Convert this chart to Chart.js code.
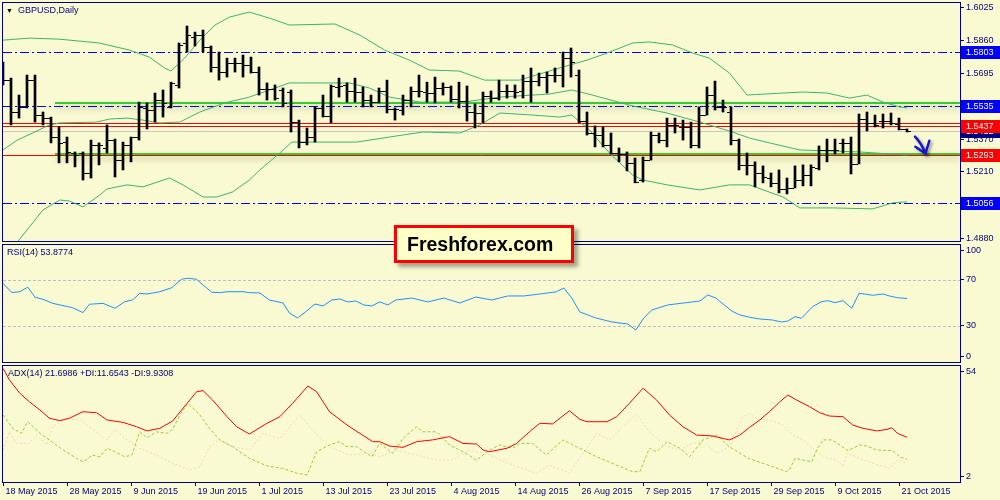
<!DOCTYPE html>
<html>
<head>
<meta charset="utf-8">
<script src="https://cdn.jsdelivr.net/npm/chart.js@4.4.1/dist/chart.umd.min.js"></script>
<style>
  html, body { margin: 0; padding: 0; background: #FAFAD2; }
  #wrap { position: relative; width: 1000px; height: 500px; overflow: hidden; background: #FAFAD2; }
  canvas { position: absolute; left: 0; }
  .lbl { position: absolute; font: 9px "Liberation Sans", Arial, sans-serif; color: #000080; line-height: 11px; white-space: nowrap; }
  #brand {
    position: absolute; left: 394px; top: 225px; width: 164px; height: 32px;
    border: 3px solid #ff0000; background: #FFFFC8; padding-left: 10px;
    box-shadow: 4px 4px 4px rgba(0,0,0,0.35);
    font: bold 19.5px "Liberation Sans", Arial, sans-serif; line-height: 32px; color: #000;
  }
</style>
</head>
<body>
<div id="wrap">
  <canvas id="main" width="1000" height="243" style="top:0"></canvas>
  <canvas id="rsi" width="1000" height="121" style="top:243px"></canvas>
  <canvas id="adx" width="1000" height="136" style="top:364px"></canvas>
  <div class="lbl" style="left:6px;top:5px;font-size:7px;color:#000">&#9660;</div>
  <div class="lbl" style="left:18px;top:5px">GBPUSD,Daily</div>
  <div class="lbl" style="left:7px;top:247px">RSI(14) 53.8774</div>
  <div class="lbl" style="left:8px;top:368px">ADX(14) 21.6986 +DI:11.6543 -DI:9.9308</div>
  <div id="brand">Freshforex.com</div>
</div>
<script>
// ---- data ----
const dateTicks = ["18 May 2015", "28 May 2015", "9 Jun 2015", "19 Jun 2015", "1 Jul 2015", "13 Jul 2015",
  "23 Jul 2015", "4 Aug 2015", "14 Aug 2015", "26 Aug 2015", "7 Sep 2015", "17 Sep 2015",
  "29 Sep 2015", "9 Oct 2015", "21 Oct 2015"];
const barsPerDateTick = 8;

const opens = [1.5714,1.5664,1.5506,1.5531,1.5664,1.5491,1.5476,1.5382,1.5357,1.5303,
  1.5303,1.5204,1.5343,1.5328,1.5367,1.5268,1.5343,1.5382,1.5526,1.5516,
  1.5565,1.5531,1.5640,1.5848,1.5877,1.5887,1.5828,1.5729,1.5704,1.5749,
  1.5749,1.5739,1.5704,1.5620,1.5620,1.5615,1.5605,1.5456,1.5357,1.5382,
  1.5526,1.5486,1.5630,1.5640,1.5610,1.5605,1.5565,1.5555,1.5610,1.5521,
  1.5516,1.5565,1.5610,1.5605,1.5600,1.5625,1.5630,1.5570,1.5560,1.5506,
  1.5501,1.5585,1.5575,1.5610,1.5610,1.5610,1.5659,1.5659,1.5679,1.5689,
  1.5689,1.5773,1.5689,1.5461,1.5402,1.5392,1.5343,1.5303,1.5298,1.5254,
  1.5169,1.5268,1.5392,1.5367,1.5442,1.5432,1.5432,1.5343,1.5491,1.5590,
  1.5531,1.5506,1.5367,1.5244,1.5244,1.5204,1.5179,1.5155,1.5125,1.5130,
  1.5169,1.5194,1.5229,1.5318,1.5318,1.5353,1.5353,1.5249,1.5471,1.5452,
  1.5461,1.5461,1.5447,1.5422];
const highs = [1.5753,1.5674,1.5590,1.5689,1.5689,1.5506,1.5481,1.5432,1.5382,1.5308,
  1.5308,1.5367,1.5353,1.5442,1.5372,1.5357,1.5382,1.5555,1.5551,1.5600,
  1.5615,1.5654,1.5848,1.5932,1.5902,1.5912,1.5833,1.5803,1.5773,1.5773,
  1.5788,1.5778,1.5729,1.5650,1.5640,1.5625,1.5615,1.5466,1.5427,1.5531,
  1.5590,1.5640,1.5674,1.5650,1.5674,1.5630,1.5590,1.5625,1.5664,1.5526,
  1.5590,1.5630,1.5689,1.5654,1.5679,1.5650,1.5635,1.5654,1.5635,1.5546,
  1.5605,1.5610,1.5664,1.5640,1.5640,1.5689,1.5724,1.5699,1.5704,1.5724,
  1.5803,1.5823,1.5714,1.5506,1.5437,1.5432,1.5402,1.5328,1.5308,1.5278,
  1.5283,1.5407,1.5402,1.5476,1.5476,1.5466,1.5456,1.5531,1.5630,1.5659,
  1.5565,1.5531,1.5372,1.5303,1.5259,1.5239,1.5204,1.5219,1.5179,1.5239,
  1.5244,1.5244,1.5338,1.5372,1.5372,1.5372,1.5382,1.5496,1.5506,1.5491,
  1.5496,1.5501,1.5476,1.5422];
const lows = [1.5640,1.5442,1.5476,1.5526,1.5456,1.5442,1.5353,1.5254,1.5254,1.5234,
  1.5169,1.5179,1.5244,1.5303,1.5184,1.5219,1.5259,1.5367,1.5422,1.5456,
  1.5481,1.5526,1.5625,1.5803,1.5833,1.5803,1.5704,1.5664,1.5679,1.5704,
  1.5679,1.5699,1.5590,1.5565,1.5565,1.5531,1.5407,1.5328,1.5343,1.5357,
  1.5481,1.5452,1.5580,1.5555,1.5555,1.5531,1.5531,1.5551,1.5501,1.5466,
  1.5491,1.5531,1.5580,1.5555,1.5551,1.5590,1.5555,1.5526,1.5461,1.5427,
  1.5452,1.5555,1.5565,1.5575,1.5575,1.5575,1.5555,1.5635,1.5600,1.5654,
  1.5630,1.5679,1.5452,1.5392,1.5333,1.5333,1.5298,1.5259,1.5214,1.5155,
  1.5159,1.5268,1.5353,1.5333,1.5402,1.5367,1.5328,1.5328,1.5491,1.5516,
  1.5506,1.5343,1.5219,1.5194,1.5135,1.5155,1.5135,1.5105,1.5100,1.5130,
  1.5140,1.5140,1.5219,1.5259,1.5298,1.5303,1.5199,1.5249,1.5412,1.5432,
  1.5427,1.5442,1.5417,1.5407];
const closes = [1.5664,1.5506,1.5531,1.5664,1.5491,1.5476,1.5382,1.5353,1.5308,1.5293,
  1.5204,1.5343,1.5343,1.5367,1.5268,1.5343,1.5382,1.5531,1.5516,1.5565,
  1.5551,1.5650,1.5838,1.5887,1.5887,1.5828,1.5729,1.5704,1.5749,1.5749,
  1.5739,1.5704,1.5620,1.5620,1.5575,1.5551,1.5456,1.5357,1.5382,1.5526,
  1.5486,1.5635,1.5635,1.5610,1.5605,1.5565,1.5555,1.5610,1.5521,1.5521,
  1.5565,1.5610,1.5610,1.5600,1.5625,1.5630,1.5570,1.5560,1.5506,1.5501,
  1.5585,1.5575,1.5610,1.5610,1.5605,1.5659,1.5659,1.5679,1.5689,1.5689,
  1.5773,1.5753,1.5461,1.5402,1.5392,1.5343,1.5303,1.5298,1.5254,1.5159,
  1.5268,1.5392,1.5367,1.5442,1.5442,1.5432,1.5343,1.5491,1.5590,1.5531,
  1.5531,1.5367,1.5244,1.5244,1.5204,1.5184,1.5155,1.5125,1.5130,1.5169,
  1.5194,1.5234,1.5318,1.5318,1.5318,1.5353,1.5249,1.5471,1.5452,1.5442,
  1.5461,1.5452,1.5422,1.5412];

// Bollinger bands, read as [bar index, price]
const bbUpper = [[0,1.5862],[3.3,1.5872],[7,1.5867],[12,1.5848],[15.8,1.5813],[18.3,1.5778],[20.2,1.5724],
  [21,1.5709],[22.7,1.5773],[24.6,1.5862],[26.5,1.5937],[28.3,1.5976],[30.8,1.6001],[33.3,1.5971],
  [35.8,1.5937],[41.5,1.5942],[44.6,1.5887],[47.7,1.5813],[50.8,1.5763],[53.3,1.5714],[57,1.5709],
  [60.2,1.5664],[64.6,1.5664],[66.2,1.5684],[70,1.5729],[73,1.5763],[75.5,1.5798],[78.7,1.5848],
  [80.8,1.5853],[83.7,1.5838],[86.2,1.5798],[88.3,1.5773],[90.8,1.5699],[93,1.5590],[97.5,1.5600],
  [100,1.5605],[103,1.5600],[105.8,1.5575],[108,1.5590],[110,1.5555],[112.1,1.5531],[113,1.5526]];
const bbMiddle = [[0,1.5318],[1.8,1.5367],[3.7,1.5402],[5.8,1.5442],[7.1,1.5452],[11.7,1.5456],[13.3,1.5471],
  [15.5,1.5476],[17.5,1.5466],[19.6,1.5452],[22.1,1.5456],[24.6,1.5506],[27.7,1.5551],[30.8,1.5580],
  [35.8,1.5650],[43.3,1.5650],[45.8,1.5625],[48.3,1.5580],[52.1,1.5555],[57.5,1.5555],[62.1,1.5580],
  [68.3,1.5595],[71.1,1.5615],[72.7,1.5600],[74.6,1.5580],[78.7,1.5536],[83,1.5501],[87.1,1.5456],
  [91.2,1.5407],[93.3,1.5377],[95.8,1.5353],[99.6,1.5318],[107.1,1.5308],[113,1.5293]];
const bbLower = [[0,1.4813],[1.8,1.4862],[5,1.5021],[7.1,1.5070],[8.3,1.5065],[10,1.5036],[12.1,1.5095],
  [13,1.5125],[15.5,1.5145],[17.5,1.5135],[20.8,1.5179],[22.5,1.5145],[25,1.5085],[26.7,1.5085],
  [28.7,1.5110],[30.8,1.5169],[32.1,1.5219],[34.6,1.5303],[36.1,1.5357],[44.2,1.5357],[48.3,1.5382],
  [52.5,1.5407],[57.1,1.5402],[59.6,1.5442],[62.1,1.5501],[66.2,1.5491],[69.6,1.5481],[71.1,1.5491],
  [73.3,1.5417],[75.8,1.5303],[78.7,1.5194],[80,1.5169],[83,1.5145],[87.1,1.5120],[90.8,1.5145],
  [93.3,1.5145],[97.5,1.5085],[99.6,1.5031],[103.7,1.5031],[108.7,1.5026],[111.2,1.5056],[113,1.5061]];

const priceTicks = [1.4880, 1.5210, 1.5370, 1.5535, 1.5695, 1.5860, 1.6025];
const blueLevels = [1.5803, 1.5535, 1.5056];
const redLevels = [1.5450, 1.5437, 1.5293];
const redLabels = [1.5437, 1.5293];
const greenLevels = [1.5549, 1.5298];
const greenFromBar = 6.5;
const bidPrice = 1.5412;
const arrowShaft = [[114.0, 1.5384], [114.8, 1.5351], [115.3, 1.5302]];
const arrowHead = [[114.05, 1.5334], [115.3, 1.5300], [115.8, 1.5364]];

const rsiValues = [[0,67.1],[1.1,59.0],[2.1,59.8],[3.1,63.7],[4,55.0],[5,53.2],[6.2,49.7],[7.5,47.7],
  [8.7,45.9],[10,41.6],[10.8,48.9],[12.5,49.7],[14,45.4],[15.2,51.1],[16.2,52.6],[17.1,58.4],[18,57.8],
  [19.6,59.8],[21.1,63.3],[22.3,70.6],[23.1,71.5],[24.2,70.6],[25,65.7],[26.1,59.3],[27.1,59.0],[28,59.8],
  [30,59.8],[30.8,59.0],[32.1,58.7],[33.3,52.6],[35,50.0],[35.8,41.3],[36.8,37.0],[37.8,42.2],[39,49.1],
  [40,47.4],[41.1,52.6],[42.1,53.5],[43.1,50.9],[44.1,51.7],[45.1,48.3],[46.1,47.4],[47.1,50.9],[48.1,48.3],
  [49.1,52.6],[51.1,54.3],[53.1,50.9],[55.1,54.3],[57.1,50.0],[59.1,55.2],[61.1,52.6],[63.1,56.1],
  [65.1,56.1],[67.1,57.8],[69.1,59.6],[70.1,63.0],[71.1,54.3],[72.1,42.2],[74.1,37.0],[76.1,33.5],
  [78.1,31.7],[79.1,26.5],[80.1,37.0],[81.1,43.9],[83.1,48.3],[85.1,50.0],[87.1,51.7],[88.1,57.0],
  [89.1,54.3],[91.1,43.0],[92.1,39.6],[93.3,37.6],[94.6,36.1],[96.2,35.2],[97.3,33.5],[98.1,34.3],
  [99,38.1],[99.8,36.7],[101.2,46.8],[102.3,51.1],[103.1,52.0],[104,50.3],[105,52.0],[106.1,45.4],
  [107,58.4],[107.7,57.8],[108.7,56.7],[110,57.8],[110.8,56.1],[111.8,54.6],[113,53.9]];
const rsiLevels = [30, 70];
const rsiTickLabels = [0, 30, 70, 100];

const adxValues = [[0,53.2],[0.8,47.9],[2.1,41.8],[3.3,37.9],[4.6,34.2],[5.8,30.4],[7.1,29.3],[8.3,30.4],
  [10,33.4],[11.7,32.9],[13,29.6],[15,28.5],[16.7,26.5],[18,24.6],[19.6,25.8],[21.2,29.1],[23,37.2],
  [24.2,42.5],[25,43.0],[26.2,38.7],[28,31.1],[29.2,26.5],[30.8,23.2],[33,28.1],[34.6,31.1],[36.2,37.2],
  [38.1,45.1],[39.2,42.5],[40.8,33.4],[43,27.3],[44.6,23.5],[46.2,19.7],[47.1,19.7],[48.3,17.7],[50,17.1],
  [51.7,19.7],[53.7,20.5],[55.8,22.0],[57.5,18.9],[59.2,18.6],[60,15.9],[60.8,15.1],[63,16.7],[64.2,18.9],
  [65.8,24.2],[67.1,28.1],[68.7,27.8],[70.8,33.8],[72.1,29.9],[73,28.8],[75.5,28.8],[76.7,31.1],[78.3,37.2],
  [80,44.1],[81.7,38.7],[83.3,31.9],[85,26.5],[86.7,22.7],[88.7,22.3],[90.8,20.5],[92.1,22.7],[93.3,26.2],
  [94.6,29.6],[95.8,33.4],[97.1,37.9],[98.1,41.0],[99.2,38.7],[100.8,35.7],[102.1,32.9],[103.3,31.4],
  [105,31.1],[106.2,27.3],[107.5,25.8],[109.2,24.6],[110.5,25.3],[111.1,26.1],[111.8,23.5],[113,21.7]];
const plusDI = [[0,31.9],[1.2,25.8],[2.3,23.5],[3.1,28.8],[4.6,23.5],[5.8,20.5],[7.5,15.9],[9.2,12.1],
  [10,10.5],[11.2,13.6],[12.1,12.8],[13,16.7],[14.2,14.7],[15.2,12.8],[16.1,13.6],[17.1,24.2],[18,21.5],
  [19.2,24.2],[20.5,23.5],[21.2,25.3],[22.1,31.9],[23.1,37.2],[24.6,31.9],[25.8,25.8],[27.1,20.5],
  [28.7,17.4],[30.5,12.8],[30.8,12.1],[33,8.6],[35,7.5],[36.7,5.3],[38,4.5],[39.2,15.1],[40.8,18.2],
  [42.1,19.7],[43,17.4],[44.2,17.4],[46.1,12.8],[47.1,18.9],[48.7,14.4],[50,21.2],[51.7,26.5],[52.5,24.2],
  [54.2,24.2],[55.8,18.2],[57.5,15.1],[59.2,11.3],[60.8,15.9],[62.1,18.2],[63.7,16.7],[64.6,18.9],
  [66.2,18.9],[67.9,13.6],[70,20.5],[71.7,17.4],[74.2,12.8],[76.7,9.0],[78.7,6.0],[79.6,6.0],[80.8,16.7],
  [81.7,15.1],[83,19.7],[84.6,16.7],[85.8,12.8],[87.5,20.5],[89.2,22.7],[90.8,17.4],[92.5,13.6],[93.3,11.9],
  [95,9.8],[96.2,8.3],[97.9,6.0],[98.3,6.8],[99,12.1],[100,11.3],[101.1,10.5],[101.7,15.9],[102.5,20.5],
  [103.6,20.5],[104.6,18.2],[105.6,15.6],[107.1,18.2],[108,17.7],[109.2,15.9],[111.2,15.6],[112.1,12.8],
  [113,11.65]];
const minusDI = [[0,15.9],[0.8,24.2],[1.7,18.9],[3.3,18.9],[4.2,22.7],[5.5,18.2],[6.2,26.5],[7.5,29.6],
  [9.6,29.9],[10.8,26.5],[13,20.5],[14,25.0],[15.5,20.5],[17.1,16.7],[19.2,13.6],[21.2,9.8],[23.3,6.8],
  [24.6,8.3],[25.8,17.4],[27.1,20.5],[28.7,17.4],[30.8,15.9],[32.5,23.5],[34.6,21.2],[37.1,31.9],[38.7,25.0],
  [40.8,17.4],[43.3,13.6],[45.8,14.4],[47.1,12.8],[49.2,15.9],[51.7,13.6],[54.2,11.3],[56.2,11.3],
  [58.3,15.9],[60.8,13.6],[64.2,8.3],[66.7,5.3],[68.3,9.0],[70.8,5.3],[72.5,14.4],[74.2,23.5],[75.8,20.5],
  [77.5,26.5],[79.2,32.6],[80.8,24.2],[83,17.4],[84.6,15.9],[86.2,18.9],[87.5,19.7],[89.2,14.4],[90.8,17.4],
  [92.5,31.1],[93.3,32.3],[94.6,29.6],[95.8,29.6],[97.5,27.3],[98.7,22.7],[100,20.5],[101.7,15.1],
  [103,12.1],[104.2,11.3],[105,8.6],[105.5,14.4],[107.1,12.1],[108.7,9.8],[110.8,7.5],[111.8,11.3],
  [113,9.93]];
const adxTickLabels = [2, 54];

// ---- view setup ----
const NAVY = '#000080';
const FONT_FAMILY = '"Liberation Sans", Arial, sans-serif';
Chart.defaults.font.family = FONT_FAMILY;
Chart.defaults.font.size = 9;
Chart.defaults.color = NAVY;
Chart.defaults.animation = false;

const X_MIN = 0, X_MAX = 119.625;

const toXY = arr => arr.map(([x, y]) => ({ x, y }));

function xAxis(show) {
  return {
    type: 'linear', min: X_MIN, max: X_MAX, offset: false, display: show,
    grid: { drawOnChartArea: false, drawTicks: true, tickLength: 4, color: NAVY },
    border: { display: true, color: NAVY },
    afterBuildTicks: s => { s.ticks = dateTicks.map((_, k) => ({ value: k * barsPerDateTick })); },
    ticks: { align: 'start', padding: 0, maxRotation: 0, autoSkip: false, color: NAVY,
      callback: (v, i) => ' ' + dateTicks[i] },
    afterFit: s => {
      s.height = show ? 18 : 0;
      s.paddingLeft = 0; s.paddingRight = 0;
    }
  };
}

function yAxis(min, max, labels, inset, fmt) {
  return {
    position: 'right', min, max,
    grid: { drawOnChartArea: false, drawTicks: true, tickLength: 4, tickColor: NAVY },
    border: { display: true, color: NAVY },
    afterBuildTicks: s => {
      s.ticks = labels.map(v => ({ value: Math.min(Math.max(v, min + inset), max - inset) }));
    },
    ticks: { padding: 2, color: NAVY, autoSkip: false, callback: (v, i) => fmt(labels[i]) },
    afterFit: s => { s.width = 40; s.paddingTop = 0; s.paddingBottom = 0; }
  };
}

const framePlugin = {
  id: 'frame',
  afterDraw(chart) {
    const { ctx, chartArea: a } = chart;
    ctx.save();
    ctx.strokeStyle = NAVY; ctx.lineWidth = 1;
    ctx.strokeRect(a.left - 0.5, a.top - 0.5, a.right - a.left + 1, a.bottom - a.top + 1);
    ctx.restore();
  }
};

const baseOptions = {
  responsive: false, maintainAspectRatio: false, events: [],
  plugins: { legend: { display: false }, tooltip: { enabled: false } }
};

// ---- main price panel ----
const mainPlugin = {
  id: 'mainExtras',
  beforeDatasetsDraw(chart) {
    const { ctx, chartArea: a, scales: { x, y } } = chart;
    ctx.save();
    ctx.beginPath(); ctx.rect(a.left, a.top, a.right - a.left, a.bottom - a.top); ctx.clip();
    const hline = (price, color, width, dash, fromBar) => {
      const py = Math.round(y.getPixelForValue(price)) + (width % 2 ? 0.5 : 0);
      const x0 = fromBar == null ? a.left : x.getPixelForValue(fromBar);
      ctx.setLineDash(dash); ctx.strokeStyle = color; ctx.lineWidth = width;
      ctx.beginPath(); ctx.moveTo(x0, py); ctx.lineTo(a.right, py); ctx.stroke();
    };
    hline(bidPrice, '#C8C8C8', 1, []);
    blueLevels.forEach(p => hline(p, '#0000FF', 1, [9, 3, 2, 3]));
    redLevels.forEach(p => hline(p, '#FF0000', 1, []));
    ctx.shadowColor = 'rgba(60,60,20,0.35)'; ctx.shadowBlur = 6; ctx.shadowOffsetY = 4;
    greenLevels.forEach(p => hline(p, '#33CC33', 2, [], greenFromBar));
    ctx.restore();
  },
  afterDatasetsDraw(chart) {
    const { ctx, chartArea: a, scales: { x, y } } = chart;
    ctx.save();
    ctx.beginPath(); ctx.rect(a.left, a.top, a.right - a.left, a.bottom - a.top); ctx.clip();
    ctx.fillStyle = '#000';
    opens.forEach((o, i) => {
      const cx = Math.round(x.getPixelForValue(i));
      ctx.fillRect(cx - 4, Math.round(y.getPixelForValue(o)), 3, 1);
      ctx.fillRect(cx + 1, Math.round(y.getPixelForValue(closes[i])), 3, 1);
    });
    // hand drawn arrow
    const pt = ([i, p]) => [x.getPixelForValue(i), y.getPixelForValue(p)];
    ctx.strokeStyle = '#1515D0'; ctx.lineWidth = 2.5; ctx.lineCap = 'round'; ctx.lineJoin = 'round';
    ctx.shadowColor = 'rgba(0,0,0,0.4)'; ctx.shadowBlur = 3; ctx.shadowOffsetX = 2; ctx.shadowOffsetY = 2;
    const s = arrowShaft.map(pt);
    ctx.beginPath(); ctx.moveTo(s[0][0], s[0][1]); ctx.quadraticCurveTo(s[1][0], s[1][1], s[2][0], s[2][1]); ctx.stroke();
    const h = arrowHead.map(pt);
    ctx.beginPath(); ctx.moveTo(h[0][0], h[0][1]); ctx.lineTo(h[1][0], h[1][1]); ctx.lineTo(h[2][0], h[2][1]); ctx.stroke();
    ctx.restore();
  },
  afterDraw(chart) {
    const { ctx, scales: { y } } = chart;
    ctx.save();
    ctx.font = '9px ' + FONT_FAMILY; ctx.textBaseline = 'middle';
    const box = (price, color) => {
      const py = Math.round(y.getPixelForValue(price));
      ctx.fillStyle = color; ctx.fillRect(961, py - 6, 39, 13);
      ctx.fillStyle = '#fff'; ctx.fillText(price.toFixed(4), 966, py + 0.5);
    };
    box(bidPrice, NAVY);
    blueLevels.forEach(p => box(p, '#0000FF'));
    redLabels.forEach(p => box(p, '#FF0000'));
    ctx.restore();
  }
};

new Chart(document.getElementById('main'), {
  type: 'line',
  data: {
    datasets: [
      { type: 'bar', data: highs.map((h, i) => ({ x: i, y: [lows[i], h] })),
        backgroundColor: '#000', borderWidth: 0, barThickness: 2 },
      { data: toXY(bbUpper), borderColor: '#3CB371', borderWidth: 1, pointRadius: 0 },
      { data: toXY(bbMiddle), borderColor: '#3CB371', borderWidth: 1, pointRadius: 0 },
      { data: toXY(bbLower), borderColor: '#3CB371', borderWidth: 1, pointRadius: 0 }
    ]
  },
  options: {
    ...baseOptions,
    layout: { padding: { left: 3, top: 3, bottom: 2, right: 0 } },
    scales: {
      x: xAxis(false),
      y: yAxis(1.4867, 1.6046, priceTicks, 0, v => v.toFixed(4))
    }
  },
  plugins: [mainPlugin, framePlugin]
});

// ---- RSI panel ----
const rsiPlugin = {
  id: 'rsiLevels',
  beforeDatasetsDraw(chart) {
    const { ctx, chartArea: a, scales: { y } } = chart;
    ctx.save();
    ctx.strokeStyle = '#C0C0C0'; ctx.lineWidth = 1; ctx.setLineDash([3, 2]);
    rsiLevels.forEach(v => {
      const py = Math.round(y.getPixelForValue(v)) + 0.5;
      ctx.beginPath(); ctx.moveTo(a.left, py); ctx.lineTo(a.right, py); ctx.stroke();
    });
    ctx.restore();
  }
};

new Chart(document.getElementById('rsi'), {
  type: 'line',
  data: { datasets: [
    { data: toXY(rsiValues), borderColor: '#1E90FF', borderWidth: 1, pointRadius: 0 }
  ] },
  options: {
    ...baseOptions,
    layout: { padding: { left: 3, top: 2, bottom: 2, right: 0 } },
    scales: {
      x: xAxis(false),
      y: yAxis(-1.3, 100.4, rsiTickLabels, 4.8, v => String(v))
    }
  },
  plugins: [rsiPlugin, framePlugin]
});

// ---- ADX panel ----
new Chart(document.getElementById('adx'), {
  type: 'line',
  data: { datasets: [
    { data: toXY(adxValues), borderColor: '#FF0000', borderWidth: 1, pointRadius: 0 },
    { data: toXY(plusDI), borderColor: '#9ACD32', borderWidth: 1, borderDash: [3, 2], pointRadius: 0 },
    { data: toXY(minusDI), borderColor: '#F8D4B4', borderWidth: 1, borderDash: [2, 2], pointRadius: 0 }
  ] },
  options: {
    ...baseOptions,
    layout: { padding: { left: 3, top: 2, bottom: 0, right: 0 } },
    scales: {
      x: xAxis(true),
      y: yAxis(1.28, 54.25, adxTickLabels, 2.6, v => String(v))
    }
  },
  plugins: [framePlugin]
});
</script>
</body>
</html>
